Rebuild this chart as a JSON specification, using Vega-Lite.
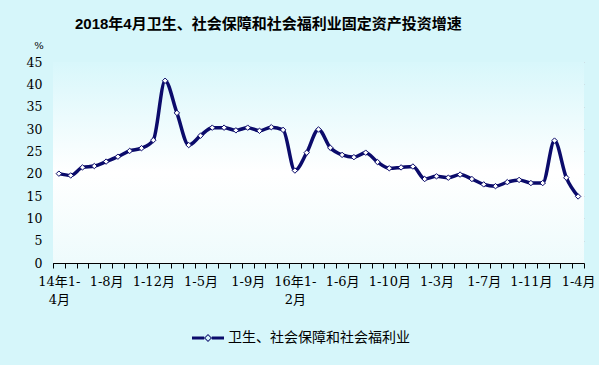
{
  "$schema": "https://vega.github.io/schema/vega-lite/v6.json",
  "width": 531,
  "height": 201,
  "autosize": {"type": "none"},
  "padding": {"left": 53, "top": 62, "right": 15, "bottom": 102},
  "background": "#d6f6fa",
  "title": {
    "text": "2018年4月卫生、社会保障和社会福利业固定资产投资增速",
    "font": "Liberation Sans, Noto Sans CJK SC",
    "fontSize": 15,
    "fontWeight": "bold",
    "color": "#000000",
    "anchor": "start",
    "frame": "group",
    "dx": 22,
    "offset": 9
  },
  "config": {
    "view": {"stroke": null},
    "axis": {"labelColor": "#000000", "titleColor": "#000000"}
  },
  "data": {
    "values": [
      {"k": "14-04", "v": 20.0}, {"k": "14-05", "v": 19.6}, {"k": "14-06", "v": 21.4},
      {"k": "14-07", "v": 21.7}, {"k": "14-08", "v": 22.7}, {"k": "14-09", "v": 23.8},
      {"k": "14-10", "v": 25.1}, {"k": "14-11", "v": 25.7}, {"k": "14-12", "v": 27.5},
      {"k": "15-02", "v": 40.8}, {"k": "15-03", "v": 33.6}, {"k": "15-04", "v": 26.4},
      {"k": "15-05", "v": 28.5}, {"k": "15-06", "v": 30.3}, {"k": "15-07", "v": 30.3},
      {"k": "15-08", "v": 29.7}, {"k": "15-09", "v": 30.3}, {"k": "15-10", "v": 29.6},
      {"k": "15-11", "v": 30.4}, {"k": "15-12", "v": 29.8}, {"k": "16-02", "v": 20.7},
      {"k": "16-03", "v": 24.7}, {"k": "16-04", "v": 29.9}, {"k": "16-05", "v": 25.8},
      {"k": "16-06", "v": 24.2}, {"k": "16-07", "v": 23.7}, {"k": "16-08", "v": 24.7},
      {"k": "16-09", "v": 22.6}, {"k": "16-10", "v": 21.2}, {"k": "16-11", "v": 21.4},
      {"k": "16-12", "v": 21.6}, {"k": "17-02", "v": 18.8}, {"k": "17-03", "v": 19.4},
      {"k": "17-04", "v": 19.1}, {"k": "17-05", "v": 19.8}, {"k": "17-06", "v": 18.8},
      {"k": "17-07", "v": 17.6}, {"k": "17-08", "v": 17.2}, {"k": "17-09", "v": 18.1},
      {"k": "17-10", "v": 18.6}, {"k": "17-11", "v": 17.9}, {"k": "17-12", "v": 17.9},
      {"k": "18-02", "v": 27.4}, {"k": "18-03", "v": 19.1}, {"k": "18-04", "v": 14.9}
    ]
  },
  "encoding": {
    "x": {
      "field": "k",
      "type": "ordinal",
      "sort": null,
      "scale": {"type": "band", "paddingInner": 0, "paddingOuter": 0},
      "axis": {
        "title": null,
        "labelAngle": 0,
        "labelOverlap": false,
        "labelFont": "DejaVu Serif, Noto Sans CJK SC",
        "labelFontSize": 13,
        "labelLineHeight": 18,
        "labelPadding": 7,
        "tickBand": "extent",
        "tickSize": 5,
        "tickColor": "#000000",
        "domainColor": "#000000",
        "grid": false,
        "labelExpr": "indexof(['14-08','14-12','15-05','15-09','16-06','16-10','17-03','17-07','17-11','18-04'], datum.value) >= 0 ? '1-' + toNumber(substring(datum.value, 3)) + '月' : datum.value == '14-04' ? ['14年1-', '4月'] : datum.value == '16-02' ? ['16年1-', '2月'] : ''"
      }
    },
    "y": {
      "field": "v",
      "type": "quantitative",
      "scale": {"domain": [0, 45], "nice": false},
      "axis": {
        "values": [0, 5, 10, 15, 20, 25, 30, 35, 40, 45],
        "title": "%",
        "titleAngle": 0,
        "titleAlign": "center",
        "titleBaseline": "middle",
        "titleX": -14.5,
        "titleY": -16.5,
        "titleFont": "DejaVu Serif",
        "titleFontSize": 10,
        "titleFontWeight": "normal",
        "labelFont": "DejaVu Serif",
        "labelFontSize": 12.5,
        "tickSize": -5,
        "labelPadding": 16,
        "tickColor": "#000000",
        "domainColor": "#000000",
        "gridColor": "#c4c8d0",
        "gridWidth": 1
      }
    }
  },
  "layer": [
    {
      "mark": {
        "type": "rect",
        "color": {
          "gradient": "linear",
          "x1": 0, "y1": 0, "x2": 0, "y2": 1,
          "stops": [
            {"offset": 0, "color": "#d8f7fb"},
            {"offset": 0.55, "color": "#ffffff"},
            {"offset": 1, "color": "#eefbfc"}
          ]
        }
      },
      "encoding": {"x": null, "y": null}
    },
    {
      "mark": {"type": "line", "interpolate": "monotone", "strokeWidth": 3.5},
      "encoding": {
        "color": {
          "datum": "卫生、社会保障和社会福利业",
          "type": "nominal",
          "scale": {"range": ["#0b0b6b"]},
          "legend": {
            "title": null,
            "orient": "none",
            "legendX": 139,
            "legendY": 260,
            "labelFont": "Noto Sans CJK SC",
            "labelFontSize": 14,
            "labelColor": "#000000",
            "labelOffset": 4,
            "labelLimit": 0,
            "symbolSize": 1024,
            "encode": {
              "symbols": {
                "update": {
                  "shape": {"value": "M-1,-0.094H-0.24V0.094H-1Z M0.24,-0.094H1V0.094H0.24Z M0,-0.25L0.25,0L0,0.25L-0.25,0Z M0,-0.17L-0.17,0L0,0.17L0.17,0Z"},
                  "fill": {"value": "#0b0b6b"},
                  "stroke": {"value": "transparent"},
                  "strokeWidth": {"value": 0},
                  "opacity": {"value": 1}
                }
              }
            }
          }
        }
      }
    },
    {
      "mark": {"type": "point", "shape": "diamond", "filled": true, "fill": "#ffffff", "stroke": "#0b0b6b", "strokeWidth": 1, "size": 30, "opacity": 1}
    }
  ]
}
